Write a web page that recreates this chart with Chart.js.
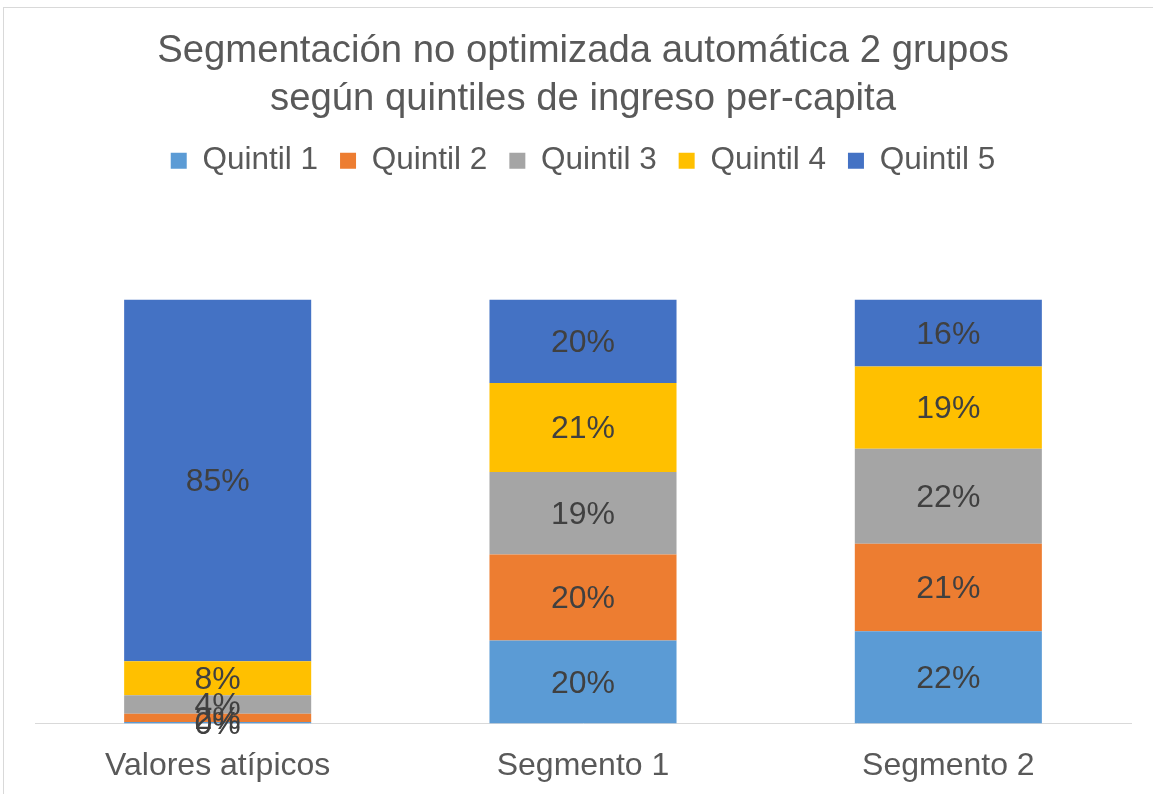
<!DOCTYPE html>
<html>
<head>
<meta charset="utf-8">
<script src="https://cdn.jsdelivr.net/npm/chart.js@4"></script>
<style>
  html, body { margin: 0; padding: 0; background: #fff; overflow: hidden; }
  #wrap { position: relative; width: 1153px; height: 794px; }
  #frame { position: absolute; left: 3px; top: 7px; width: 1160px; height: 800px; border: 1px solid #d9d9d9; box-sizing: border-box; }
  canvas { position: absolute; left: 0; top: 0; }
</style>
</head>
<body>
<div id="wrap">
  <div id="frame"></div>
  <canvas id="c" width="1153" height="794"></canvas>
</div>
<script>
// data
const categories = ['Valores atípicos', 'Segmento 1', 'Segmento 2'];
const seriesNames = ['Quintil 1', 'Quintil 2', 'Quintil 3', 'Quintil 4', 'Quintil 5'];
const quintil1 = [0.4, 19.6, 21.8];
const quintil2 = [1.9, 20.3, 20.6];
const quintil3 = [4.4, 19.4, 22.4];
const quintil4 = [8.0, 21.0, 19.4];
const quintil5 = [85.3, 19.7, 15.8];
const colors = ['#5B9BD5', '#ED7D31', '#A5A5A5', '#FFC000', '#4472C4'];

const FONT = "'Liberation Sans', Arial, sans-serif";

// labels in the middle of each stacked piece
const segLabels = {
    id: 'segLabels',
    afterDatasetsDraw(chart) {
        const ctx = chart.ctx;
        ctx.save();
        ctx.font = '32px ' + FONT;
        ctx.fillStyle = '#404040';
        ctx.textAlign = 'center';
        ctx.textBaseline = 'middle';
        chart.data.datasets.forEach((ds, i) => {
            chart.getDatasetMeta(i).data.forEach((bar, j) => {
                const mid = (bar.y + bar.base) / 2 + 2;
                ctx.fillText(Math.round(ds.data[j]) + '%', bar.x, mid);
            });
        });
        ctx.restore();
    }
};

// extra space under the legend
const legendGap = {
    id: 'legendGap',
    beforeInit(chart) {
        const fit = chart.legend.fit;
        chart.legend.fit = function () {
            fit.bind(chart.legend)();
            this.height += 113;
        };
    }
};

const allSeries = [quintil1, quintil2, quintil3, quintil4, quintil5];

new Chart(document.getElementById('c'), {
    type: 'bar',
    data: {
        labels: categories,
        datasets: allSeries.map((d, i) => ({
            label: seriesNames[i],
            data: d,
            backgroundColor: colors[i],
            borderWidth: 0,
            categoryPercentage: 1,
            barPercentage: 0.512
        }))
    },
    options: {
        responsive: false,
        animation: false,
        layout: { padding: { left: 35, right: 22, top: 0, bottom: -14 } },
        plugins: {
            title: {
                display: true,
                text: ['Segmentación no optimizada automática 2 grupos', 'según quintiles de ingreso per-capita'],
                color: '#595959',
                font: { family: FONT, size: 38.3, weight: 'normal', lineHeight: 1.24 },
                padding: { top: 28, bottom: 0 }
            },
            legend: {
                position: 'top',
                labels: {
                    color: '#595959',
                    font: { family: FONT, size: 31.5 },
                    boxWidth: 16,
                    boxHeight: 16,
                    padding: 22
                }
            },
            tooltip: { enabled: false }
        },
        scales: {
            x: {
                stacked: true,
                grid: { display: false, drawTicks: false },
                border: { display: true, color: '#d9d9d9', width: 1 },
                ticks: { color: '#595959', font: { family: FONT, size: 32 }, padding: 23 }
            },
            y: {
                stacked: true,
                display: false,
                min: 0,
                max: 100
            }
        }
    },
    plugins: [segLabels, legendGap]
});
</script>
</body>
</html>
